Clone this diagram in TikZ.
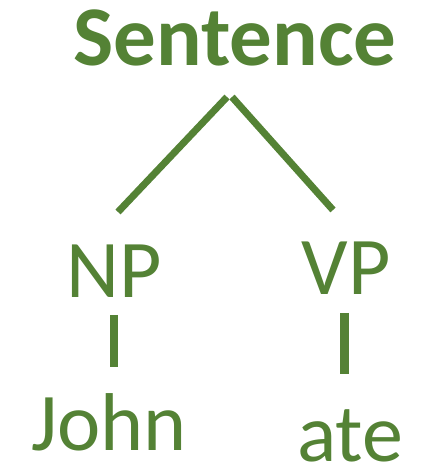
\documentclass[tikz,border=0pt]{standalone}
\usepackage{fontspec}
\setmainfont{Carlito}
\usetikzlibrary{calc}
\definecolor{treegreen}{HTML}{548235}
\begin{document}
\begin{tikzpicture}[x=1pt,y=1pt,
  word/.style={inner sep=0pt,anchor=base,text=treegreen,font=\fontsize{82}{90}\selectfont},
  root/.style={word,font=\fontsize{85}{92}\selectfont\bfseries},
  edge/.style={draw=treegreen,line width=7pt,line cap=butt},
  bar/.style={draw=treegreen,line width=8.5pt,line cap=butt}]
\useasboundingbox (0,0) rectangle (424,466);
% labels of the tree
\node[root] (S) at (235,400) {Sentence};
\node[word] (NP) at (114,168) {NP};
\node[word] (VP) at (346,171) {VP};
\node[word] (J) at (109,15) {John};
\node[word] (A) at (350,5) {ate};
% branches from the root
\draw[edge] ($(S.base)+(-8,-31)$) -- ($(NP.base)+(4,86)$);
\draw[edge] ($(S.base)+(-3,-31)$) -- ($(VP.base)+(-13,85)$);
% unary branches down to the words
\draw[bar] ($(NP.base)+(0,-17)$) -- ($(J.base)+(5,84)$);
\draw[bar] ($(VP.base)+(-1.5,-18)$) -- ($(A.base)+(-5.5,87)$);
\end{tikzpicture}
\end{document}
